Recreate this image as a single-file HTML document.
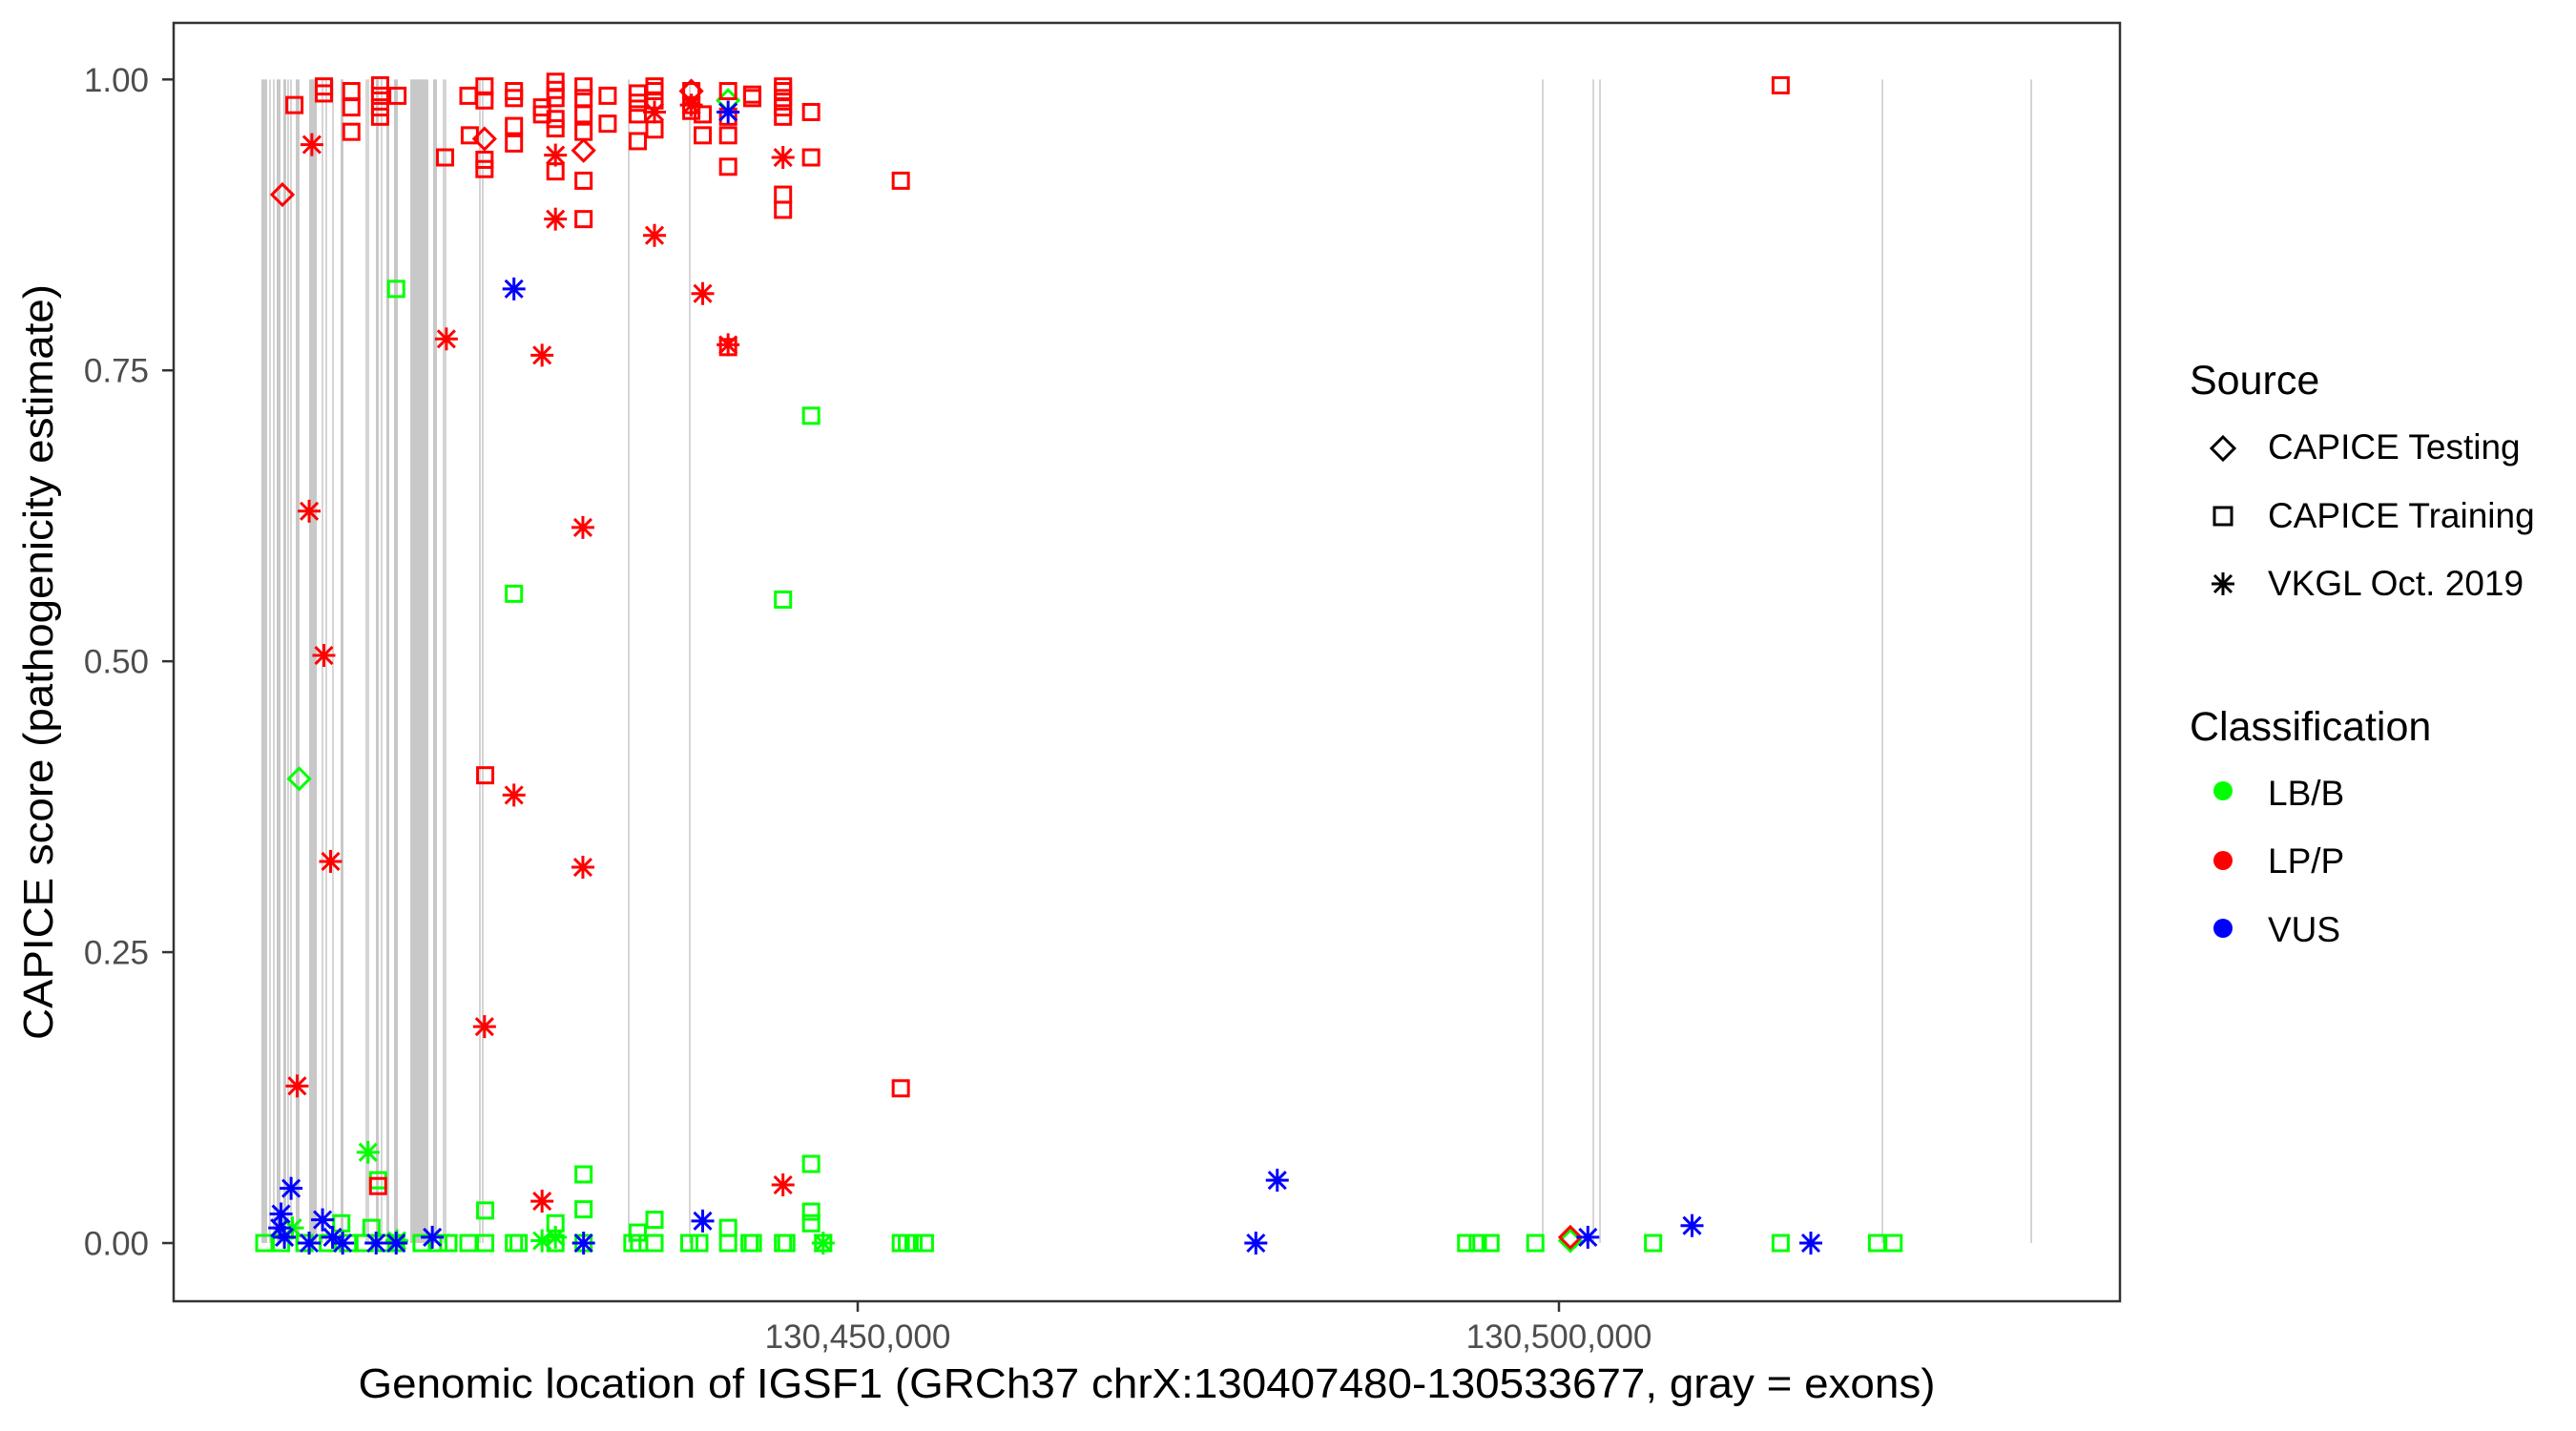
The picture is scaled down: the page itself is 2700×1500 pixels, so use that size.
<!DOCTYPE html>
<html><head><meta charset="utf-8"><style>
html,body{margin:0;padding:0;background:#fff;}
svg{display:block;font-family:"Liberation Sans",Arial,sans-serif;}
</style></head><body>
<svg id="chart" width="2700" height="1500" viewBox="0 0 2700 1500" xmlns="http://www.w3.org/2000/svg">
<rect x="0" y="0" width="2700" height="1500" fill="#fff"/>
<g id="exons"></g>
<g id="points"></g>
<rect x="182" y="24" width="2040" height="1340" fill="none" stroke="#333" stroke-width="2.5"/>
<g id="axes"></g>
<text x="1202" y="1465" font-size="44" text-anchor="middle" fill="#000" textLength="1653" lengthAdjust="spacingAndGlyphs">Genomic location of IGSF1 (GRCh37 chrX:130407480-130533677, gray = exons)</text>
<text transform="translate(55,694) rotate(-90)" font-size="44" text-anchor="middle" fill="#000" textLength="792" lengthAdjust="spacingAndGlyphs">CAPICE score (pathogenicity estimate)</text>
<g>
<text x="2295" y="413" font-size="43">Source</text>
<path d="M2330 458 L2342 470 L2330 482 L2318 470 Z" fill="none" stroke="#000" stroke-width="3"/>
<text x="2377" y="481" font-size="37">CAPICE Testing</text>
<rect x="2321" y="532" width="18" height="18" fill="none" stroke="#000" stroke-width="3"/>
<text x="2377" y="553" font-size="37">CAPICE Training</text>
<g stroke="#000" stroke-width="3">
<line x1="2330" y1="600" x2="2330" y2="624"/><line x1="2318" y1="612" x2="2342" y2="612"/><line x1="2321" y1="603" x2="2339" y2="621"/><line x1="2321" y1="621" x2="2339" y2="603"/></g>
<text x="2377" y="624" font-size="37">VKGL Oct. 2019</text>
<text x="2295" y="776" font-size="43">Classification</text>
<circle cx="2330" cy="829" r="10" fill="#00ff00"/>
<text x="2377" y="844" font-size="37">LB/B</text>
<circle cx="2330" cy="902" r="10" fill="#ff0000"/>
<text x="2377" y="915" font-size="37">LP/P</text>
<circle cx="2330" cy="973" r="10" fill="#0000ff"/>
<text x="2377" y="987" font-size="37">VUS</text>
</g>
</svg>
<script>
const exonStart=[130407481,130408093,130408366,130408570,130409046,130409386,130409590,130409930,130410883,130411835,130412107,130412583,130413128,130414965,130415101,130415645,130416053,130416393,130416937,130418094,130419727,130420475,130420611,130423060,130423264,130433673,130438027,130498845,130502451,130502927,130523064,130533677];
const exonEnd=[130407889,130408093,130408366,130408842,130409250,130409386,130409590,130410202,130411427,130411835,130412107,130412583,130413332,130414965,130415101,130415849,130416053,130416597,130417210,130419386,130419999,130420475,130420611,130423060,130423264,130433673,130438027,130498845,130502451,130502927,130523064,130533677];
const xTicks=[130450000,130500000];
const xTickLabels=["130,450,000","130,500,000"];
const yTicks=[0,0.25,0.5,0.75,1];
const yTickLabels=["0.00","0.25","0.50","0.75","1.00"];
const sources=["CAPICE Testing","CAPICE Training","VKGL Oct. 2019"];
const classes=["LB/B","LP/P","VUS"];
const posRP=[130409838,130411937,130411937,130413894,130413894,130413894,130415946,130415946,130415946,130415946,130417187,130420575,130422245,130422340,130423390,130423390,130423390,130423390,130425490,130425490,130425490,130425490,130427494,130427494,130428449,130428449,130428449,130428449,130428449,130428449,130430453,130430453,130430453,130430453,130430453,130430453,130432171,130432171,130434318,130434318,130434318,130434318,130435511,130435511,130435511,130435511,130438136,130438136,130438136,130438947,130438947,130440760,130440760,130440760,130440760,130440760,130442478,130442478,130444673,130444673,130444673,130444673,130444673,130444673,130444673,130446678,130446678,130453072,130453072,130423438,130415803,130515806];
const scoreRP=[0.978,0.994,0.988,0.990,0.976,0.955,0.995,0.986,0.976,0.968,0.986,0.933,0.986,0.952,0.994,0.982,0.931,0.923,0.990,0.984,0.960,0.945,0.976,0.970,0.998,0.991,0.984,0.966,0.958,0.921,0.994,0.984,0.970,0.955,0.913,0.880,0.986,0.962,0.988,0.980,0.970,0.947,0.994,0.990,0.982,0.957,0.990,0.978,0.973,0.970,0.952,0.990,0.968,0.952,0.925,0.770,0.987,0.984,0.994,0.990,0.984,0.976,0.968,0.901,0.888,0.972,0.933,0.913,0.133,0.402,0.049,0.995];
const posTP=[130408979,130423390,130430453,130438136,130500812];
const scoreTP=[0.901,0.949,0.939,0.990,0.005];
const posVP=[130411079,130410888,130411937,130412415,130410029,130420670,130423390,130425490,130427494,130428449,130428449,130430405,130430405,130435511,130435511,130438947,130440760,130444673,130444673,130427494,130438136];
const scoreVP=[0.944,0.629,0.505,0.328,0.135,0.777,0.186,0.385,0.763,0.935,0.880,0.615,0.323,0.866,0.972,0.816,0.772,0.933,0.050,0.036,0.978];
const posVU=[130425490,130440760,130409599,130408883,130408788,130409122,130411842,130410888,130412558,130413274,130415660,130417091,130419668,130430453,130438947,130479916,130478389,130502061,130509489,130517958];
const scoreVU=[0.820,0.972,0.047,0.025,0.013,0.005,0.020,0,0.005,0,0,0,0.005,0,0.019,0.054,0,0.005,0.015,0];
const posTB=[130410172,130440760,130500812];
const scoreTB=[0.399,0.982,0.002];
const posVB=[130415087,130409695,130417139,130427494,130428449,130447537];
const scoreVB=[0.078,0.013,0.002,0.002,0.005,0];
const posRB=[130417091,130425490,130444673,130446678,130446678,130415803,130430453,130430453,130423438,130428449,130435511,130440760,130446678,130446678,130413178,130415326,130434318,130407690,130408883,130410554,130412224,130413655,130414848,130416280,130417091,130418905,130420098,130420813,130422245,130423438,130425490,130425824,130428449,130430453,130433936,130434414,130435511,130437993,130438708,130440760,130442287,130442526,130444673,130444912,130447537,130453072,130453502,130453979,130454790,130493384,130494217,130495119,130498313,130506712,130515806,130522679,130523859];
const scoreRB=[0.820,0.558,0.553,0.711,0.068,0.054,0.059,0.029,0.028,0.017,0.020,0.013,0.027,0.017,0.017,0.013,0.009,0,0,0,0,0,0,0,0,0,0,0,0,0,0,0,0,0,0,0,0,0,0,0,0,0,0,0,0,0,0,0,0,0,0,0,0,0,0,0,0];

const NS="http://www.w3.org/2000/svg";
const X0=899, G0=130450000, XK=0.0147;
function xs(g){return X0+(g-G0)*XK;}
function ys(v){return 1303-v*1219.7;}
function mk(tag,attrs,parent){const e=document.createElementNS(NS,tag);for(const k in attrs)e.setAttribute(k,attrs[k]);parent.appendChild(e);return e;}

const exG=document.getElementById('exons');
for(let i=0;i<exonStart.length;i++){
  const x1=xs(exonStart[i]),x2=xs(exonEnd[i]);
  const w=Math.max(1.5,x2-x1);
  const r=mk('rect',{x:x1-(x2-x1<1.5?0.75:0),y:ys(1),width:w,height:ys(0)-ys(1),fill:'#c8c8c8'},exG);
  
  
}
const ax=document.getElementById('axes');
for(let i=0;i<xTicks.length;i++){
  const x=xs(xTicks[i]);
  const t=mk('line',{x1:x,x2:x,y1:1364,y2:1375,stroke:'#333','stroke-width':2.5},ax);
  
  
  const l=mk('text',{x:x,y:1413,'font-size':35,'text-anchor':'middle',fill:'#4d4d4d'},ax);
  l.textContent=xTickLabels[i];
  
  
}
for(let i=0;i<yTicks.length;i++){
  const y=ys(yTicks[i]);
  const t=mk('line',{x1:170,x2:182,y1:y,y2:y,stroke:'#333','stroke-width':2.5},ax);
  
  
  const l=mk('text',{x:156,y:y+12.5,'font-size':35,'text-anchor':'end',fill:'#4d4d4d'},ax);
  l.textContent=yTickLabels[i];
  
  
}
const pg=document.getElementById('points');
function square(x,y,c){return mk('rect',{x:x-8,y:y-8,width:16,height:16,fill:'none',stroke:c,'stroke-width':3},pg);}
function diamond(x,y,c){return mk('path',{d:`M${x} ${y-11} L${x+11} ${y} L${x} ${y+11} L${x-11} ${y} Z`,fill:'none',stroke:c,'stroke-width':3},pg);}
function star(x,y,c){const g=mk('g',{stroke:c,'stroke-width':3},pg);
  mk('line',{x1:x,y1:y-12,x2:x,y2:y+12},g);
  mk('line',{x1:x-12,y1:y,x2:x+12,y2:y},g);
  mk('line',{x1:x-9,y1:y-9,x2:x+9,y2:y+9},g);
  mk('line',{x1:x-9,y1:y+9,x2:x+9,y2:y-9},g);return g;}
function draw(pos,sc,fn,c,name){
  for(let i=0;i<pos.length;i++){
    const e=fn(xs(pos[i]),ys(sc[i]),c);
    
    
  }
}
draw(posRB,scoreRB,square,'#00ff00','point-training-lbb');
draw(posVB,scoreVB,star,'#00ff00','point-vkgl-lbb');
draw(posTB,scoreTB,diamond,'#00ff00','point-testing-lbb');
draw(posRP,scoreRP,square,'#ff0000','point-training-lpp');
draw(posTP,scoreTP,diamond,'#ff0000','point-testing-lpp');
draw(posVP,scoreVP,star,'#ff0000','point-vkgl-lpp');
draw(posVU,scoreVU,star,'#0000ff','point-vkgl-vus');
</script>
</body></html>
